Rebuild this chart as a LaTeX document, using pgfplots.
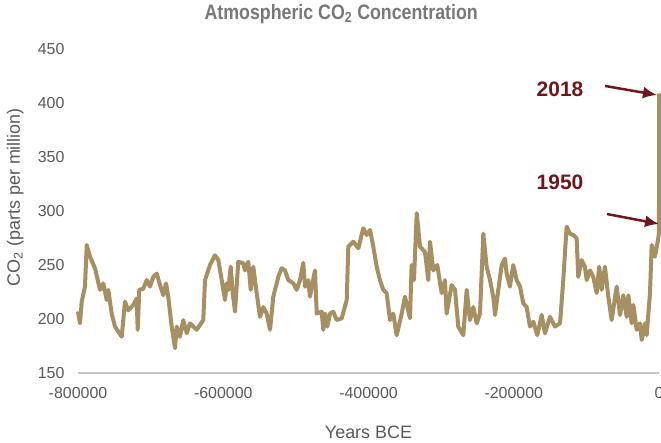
\documentclass[border=0pt]{standalone}
\usepackage{pgfplots}
\pgfplotsset{compat=1.18}
\usepackage{pgfplotstable}
\usepackage{fontspec}
\setmainfont{Liberation Sans}
\newfontfamily\narrowfont[FakeStretch=0.85]{Liberation Sans}
\usetikzlibrary{arrows.meta}
\definecolor{co2line}{RGB}{166,143,96}
\definecolor{txtgray}{RGB}{89,89,89}
\definecolor{titlegray}{RGB}{120,120,120}
\definecolor{axisgray}{RGB}{200,200,200}
\definecolor{annred}{RGB}{112,22,26}

\pgfplotstableread{
year co2
-800000 207
-797250 196
-794900 216
-790400 230
-788000 268.5
-783500 257.7
-776600 247
-769700 227
-765200 233
-760500 217.6
-758300 227
-753600 205
-749100 193
-739800 183.6
-735300 216
-730700 208
-723900 213
-719200 219
-717800 190
-715600 227
-710100 228
-705400 236
-700900 230
-696300 239
-691600 242
-687100 231.5
-682500 222
-678800 233
-675700 220.6
-671000 193
-666400 173
-664100 193
-659600 183.6
-655000 199
-650300 186.8
-645800 196
-636600 190
-627500 199
-625100 236
-618300 250
-611400 259
-606800 254.6
-602100 236
-597600 217.6
-595300 233
-593000 227
-589700 248.4
-587000 224
-583800 206.8
-579300 253
-572400 251.6
-570100 245
-565500 253
-562200 227
-558600 248.4
-554000 224
-549400 202
-544900 211
-540200 205
-535600 190
-531100 220.6
-524200 239
-519500 247
-515000 245
-510400 236
-503500 233
-498900 227
-494300 236
-489800 252
-487400 230
-482900 236
-480600 220.6
-473700 245
-471300 205
-464500 206.8
-462200 190
-459900 205
-456700 193
-453000 205
-448500 206.8
-443800 199
-436900 200.6
-430000 217.6
-427800 267
-420900 271.6
-414000 265.5
-407200 284
-402500 277.8
-397900 282.4
-393400 267
-388700 248.4
-384200 236
-379600 227
-375000 224
-370400 199
-365900 205
-361200 185
-354300 205
-349800 220.6
-342900 200.6
-340600 250
-337400 236
-333600 297.9
-329100 267
-322200 262
-317700 236
-315300 271.6
-310800 245
-305300 250
-299300 224
-294700 236
-292400 205
-285500 231.5
-280900 227
-276400 193
-269500 185
-264800 227
-260300 199
-255700 211
-251000 196
-246500 205
-241900 279
-237300 248.4
-232700 236
-228200 220.6
-225800 203.7
-221300 227
-216600 250
-212100 256
-209800 242
-205200 230
-200700 250
-196000 236
-191400 230
-186900 214.5
-182200 211
-177700 193
-173100 197.5
-167600 185
-161500 203.7
-157000 186.8
-150100 202
-143300 193
-136300 196
-131800 236
-127200 285.5
-122600 279
-118100 277.8
-113400 274.7
-111200 239
-106500 254.6
-102000 248.4
-99600 236
-95000 245
-90500 239
-85900 224
-82300 248.4
-79000 227
-74400 248.4
-69800 220.6
-65200 199
-58300 230
-53700 203.7
-49100 222
-44500 202
-42200 222
-37600 196
-35300 213
-30700 190
-26200 196
-23800 180.6
-19300 196
-17000 185
-12400 224
-10100 268.5
-5600 257.7
-1000 274.7
-200 280
-10 290
0 409
}\cotwo

\begin{document}
\begin{tikzpicture}
\useasboundingbox (-78bp,-70bp) rectangle (583bp,373bp);
\begin{axis}[
  at={(0,0)}, anchor=south west,
  scale only axis, width=581bp, height=324bp,
  xmin=-800000, xmax=0, ymin=150, ymax=450,
  xtick={-800000,-600000,-400000,-200000,0},
  ytick={150,200,250,300,350,400,450},
  scaled x ticks=false,
  /pgf/number format/fixed,
  /pgf/number format/precision=0,
  /pgf/number format/1000 sep={},
  /pgf/number format/assume math mode=true,
  separate axis lines,
  axis x line*=bottom, axis y line*=left,
  x axis line style={draw=axisgray, line width=1.5bp},
  y axis line style={draw=none},
  major tick length=0pt,
  tick style={draw=none},
  ticklabel style={font=\fontsize{16}{18}\selectfont, text=txtgray},
  xticklabel style={yshift=-11bp},
  yticklabel style={xshift=-10bp},
  xlabel={Years BCE},
  xlabel style={at={(axis description cs:0.5,0)}, anchor=center, yshift=-59bp,
    font=\fontsize{18}{20}\selectfont, text=txtgray},
  ylabel={CO\textsubscript{2} (parts per million)},
  ylabel style={at={(axis description cs:-0.108,0.543)}, anchor=center,
    font=\fontsize{18}{20}\selectfont, text=txtgray},
  title={Atmospheric CO\textsubscript{2} Concentration},
  title style={at={(axis description cs:0.453,1.0895)}, anchor=center,
    font=\narrowfont\bfseries\fontsize{21}{23}\selectfont, text=titlegray},
  clip=false,
]
\addplot[co2line, line width=4bp, line join=round, no markers] table[x=year, y=co2] {\cotwo};
\node[font=\bfseries\fontsize{21}{23}\selectfont, text=annred] at (axis cs:-136300,413) {2018};
\node[font=\bfseries\fontsize{21}{23}\selectfont, text=annred] at (axis cs:-136300,327) {1950};
\draw[annred, line width=2.5bp, -{Latex[length=14bp,width=12bp]}] (axis cs:-74400,415.8) -- (axis cs:-2800,407.4);
\draw[annred, line width=2.5bp, -{Latex[length=14bp,width=12bp]}] (axis cs:-71600,297.2) -- (axis cs:0,288);
\end{axis}
\end{tikzpicture}
\end{document}
